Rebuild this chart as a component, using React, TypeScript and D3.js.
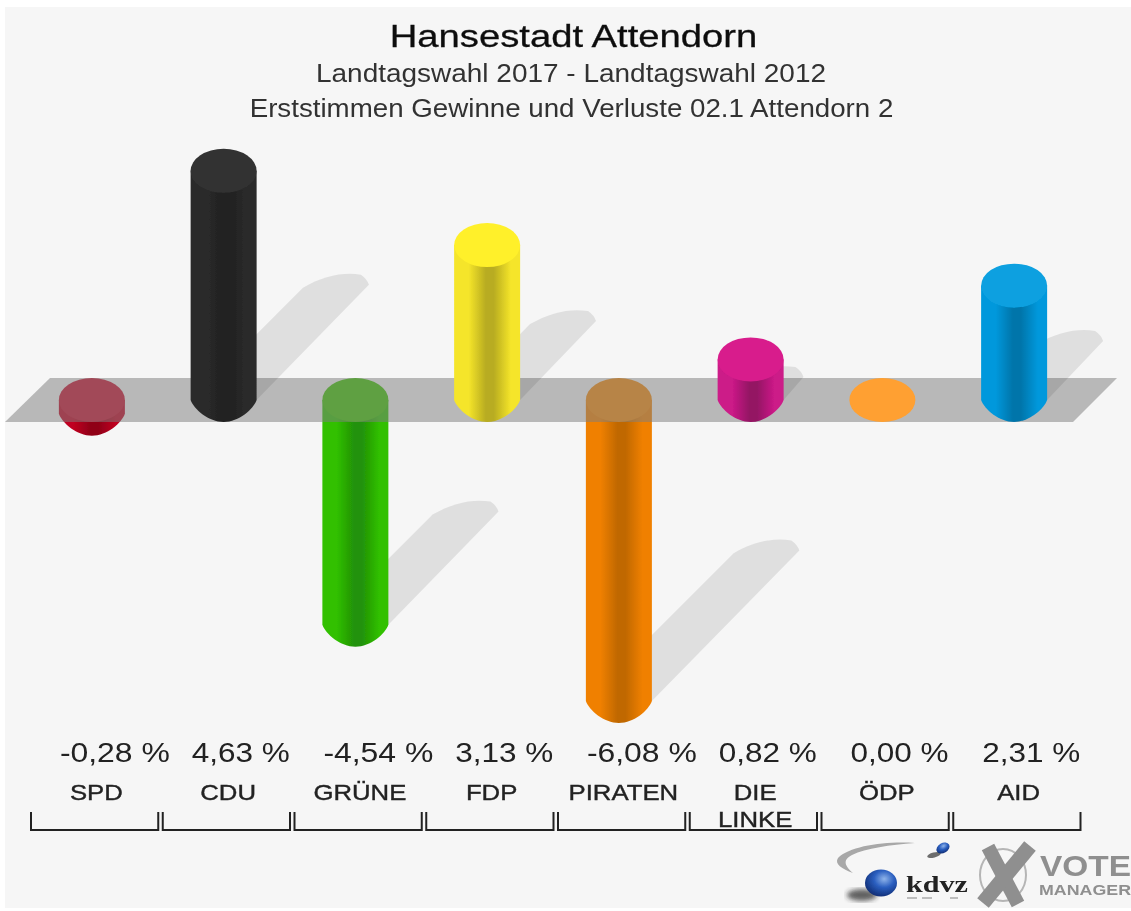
import * as d3 from 'd3';

const parties = ['SPD', 'CDU', 'GRÜNE', 'FDP', 'PIRATEN', 'DIE LINKE', 'ÖDP', 'AfD'];
// the last label is drawn as the picture reads it at this resolution
const partyLabels = [['SPD'], ['CDU'], ['GRÜNE'], ['FDP'], ['PIRATEN'], ['DIE', 'LINKE'], ['ÖDP'], ['AID']];
const changes = [-0.28, 4.63, -4.54, 3.13, -6.08, 0.82, 0.0, 2.31];
const changeLabels = ['-0,28 %', '4,63 %', '-4,54 %', '3,13 %', '-6,08 %', '0,82 %', '0,00 %', '2,31 %'];

const capColors = ['#c8102e', '#333333', '#3cc400', '#fff02a', '#f58a0a', '#d81e8c', '#ffa030', '#0aa0e0'];
const edgeColors = ['#c00020', '#2c2c2c', '#30c000', '#f5e52a', '#f08000', '#cc1a88', '#ffa030', '#0098dc'];
const coreColors = ['#900018', '#202020', '#229208', '#b8ac20', '#c06800', '#941264', '#ffa030', '#0075aa'];

const width = 1131;
const height = 911;
const rx = 33;
const ry = 22;
const y0 = 400;

const band = d3.scaleBand<string>().domain(parties).range([28.5, 1082.5]);
const y = d3.scaleLinear().domain([0, 1]).range([y0, 350.5]);
const barX = (p: string) => band(p)! + band.bandwidth() / 2 - 2.5;

function barPath(p: string, v: number) {
  const c = barX(p);
  const l = c - rx;
  const r = c + rx;
  const top = Math.min(y(v), y0);
  const bot = Math.max(y(v), y0);
  // the lower end is more of a bullet than a true half ellipse
  return (
    `M${l},${top}L${l},${bot}` +
    `C${l + 3},${bot + 9} ${c - 15},${bot + ry} ${c},${bot + ry}` +
    `C${c + 15},${bot + ry} ${r - 3},${bot + 9} ${r},${bot}L${r},${top}Z`
  );
}

function shadowPath(p: string, v: number) {
  const l = barX(p) - rx;
  const r = barX(p) + rx;
  const bot = Math.max(y(v), y0);
  const d = 0.49 * Math.abs(y(v) - y0);
  const t = bot - d;
  return (
    `M${l},${bot}L${l + d},${t}` +
    `C${l + d + 20},${t - 12} ${r + d - 25},${t - 16} ${r + d - 8},${t - 13}` +
    `Q${r + d - 2},${t - 9} ${r + d},${t - 3}L${r},${bot}Z`
  );
}

function Bar({ i }: { i: number }) {
  const p = parties[i];
  const v = changes[i];
  return (
    <g>
      {v !== 0 && <path d={barPath(p, v)} fill={`url(#body${i})`} />}
      <ellipse cx={barX(p)} cy={Math.min(y(v), y0)} rx={rx} ry={ry} fill={capColors[i]} />
    </g>
  );
}

// the source image is stretched sideways, so its text is wider than the font
function Wide({ x, y: ty, sx, anchor = 'middle', children, ...rest }: any) {
  return (
    <text transform={`translate(${x},${ty}) scale(${sx},1)`} textAnchor={anchor} {...rest}>
      {children}
    </text>
  );
}

function Logos() {
  return (
    <g>
      <path d="M915,843 C885,841 850,846 838,858 C834,864 842,869 853,873 C845,866 842,860 852,855 C866,848 890,845 915,843Z" fill="#a8a8a8" />
      <ellipse cx="862" cy="895" rx="15" ry="6" fill="#222" opacity="0.7" filter="url(#logoBlur)" />
      <ellipse cx="881" cy="883" rx="16" ry="13.5" fill="url(#ball)" />
      <ellipse cx="934" cy="855" rx="7" ry="2.5" fill="#333" opacity="0.7" transform="rotate(-15 934 855)" />
      <ellipse cx="943" cy="848" rx="7" ry="5" fill="url(#ball)" transform="rotate(-30 943 848)" />
      <text x="906" y="892" fontFamily="'Liberation Serif'" fontWeight="bold" fontSize="24" fill="#222" textLength="62" lengthAdjust="spacingAndGlyphs">kdvz</text>
      <path d="M907,898h10M922,898h10M950,898h8" stroke="#aaa" strokeWidth="1.5" />
      <ellipse cx="1003" cy="875" rx="23" ry="26" fill="none" stroke="#b5b5b5" strokeWidth="2" />
      <path d="M988,847L1018,904" stroke="#8f8f8f" strokeWidth="14" />
      <path d="M1030,846L983,903" stroke="#8f8f8f" strokeWidth="15" />
      <text x="1040" y="876" fontFamily="'Liberation Sans'" fontWeight="bold" fontSize="30" fill="#8f8f8f" textLength="91" lengthAdjust="spacingAndGlyphs">VOTE</text>
      <text x="1039" y="895" fontFamily="'Liberation Sans'" fontWeight="bold" fontSize="14" fill="#8f8f8f" textLength="92" lengthAdjust="spacingAndGlyphs">MANAGER</text>
    </g>
  );
}

export default function App() {
  const idx = d3.range(parties.length);
  const negatives = idx.filter(i => changes[i] < 0);
  const others = idx.filter(i => changes[i] >= 0);
  // very short bars hide their own shadow behind the cap
  const hasShadow = (i: number) => Math.abs(changes[i]) > 0.5;

  return (
    <svg width={width} height={height} style={{ position: 'absolute', left: 0, top: 0, display: 'block' }} fontFamily="'Liberation Sans', Arial, sans-serif">
      <defs>
        {idx.map(i => (
          <linearGradient key={i} id={`body${i}`} x1="0" x2="1" y1="0" y2="0">
            <stop offset="0" stopColor={edgeColors[i]} />
            <stop offset="0.22" stopColor={edgeColors[i]} />
            <stop offset="0.48" stopColor={coreColors[i]} />
            <stop offset="0.6" stopColor={coreColors[i]} />
            <stop offset="0.86" stopColor={edgeColors[i]} />
            <stop offset="1" stopColor={edgeColors[i]} />
          </linearGradient>
        ))}
        <radialGradient id="ball" cx="0.6" cy="0.35" r="0.7">
          <stop offset="0" stopColor="#8fb4ea" />
          <stop offset="0.45" stopColor="#2b5fc0" />
          <stop offset="1" stopColor="#0e2a70" />
        </radialGradient>
        <filter id="soft" x="0" y="0" width="100%" height="100%">
          <feGaussianBlur stdDeviation="0.6" />
        </filter>
        <filter id="logoBlur">
          <feGaussianBlur stdDeviation="2.5" />
        </filter>
      </defs>

      <rect width={width} height={height} fill="#ffffff" />
      <g filter="url(#soft)">
        <rect x="5" y="7" width={width - 5} height="901" fill="#f6f6f6" />

        {negatives.filter(hasShadow).map(i => (
          <path key={i} d={shadowPath(parties[i], changes[i])} fill="#000" opacity="0.09" />
        ))}
        {negatives.map(i => <Bar key={i} i={i} />)}

        <path d="M50,378L1117,378L1073,422L5,422Z" fill="#7f7f7f" fillOpacity="0.52" />

        {others.filter(hasShadow).map(i => (
          <path key={i} d={shadowPath(parties[i], changes[i])} fill="#000" opacity="0.09" />
        ))}
        {others.map(i => <Bar key={i} i={i} />)}

        <Wide x={573.5} y={47} sx={1.195} fontSize="32" fill="#111" stroke="#111" strokeWidth="0.3">Hansestadt Attendorn</Wide>
        <Wide x={571} y={82} sx={1.076} fontSize="26" fill="#333">Landtagswahl 2017 - Landtagswahl 2012</Wide>
        <Wide x={571.5} y={117} sx={1.066} fontSize="26" fill="#333">Erststimmen Gewinne und Verluste 02.1 Attendorn 2</Wide>

        {idx.map(i => (
          <text key={i} x={barX(parties[i]) - 32} y="762" fontSize="27" fill="#222" textLength={changes[i] < 0 ? 110 : 98} lengthAdjust="spacingAndGlyphs">
            {changeLabels[i]}
          </text>
        ))}

        {idx.map(i =>
          partyLabels[i].map((line, j) => (
            <Wide key={`${i}-${j}`} x={band(parties[i])! + band.bandwidth() / 2 + 2} y={800 + j * 27} sx={1.12} fontSize="23" fill="#222" stroke="#222" strokeWidth="0.4">
              {line}
            </Wide>
          ))
        )}

        {idx.map(i => {
          const l = band(parties[i])! + 2.5;
          const r = band(parties[i])! + band.bandwidth() - 2;
          return <path key={i} d={`M${l},812V830H${r}V812`} fill="none" stroke="#222" strokeWidth="2" />;
        })}

        <Logos />
      </g>
    </svg>
  );
}
